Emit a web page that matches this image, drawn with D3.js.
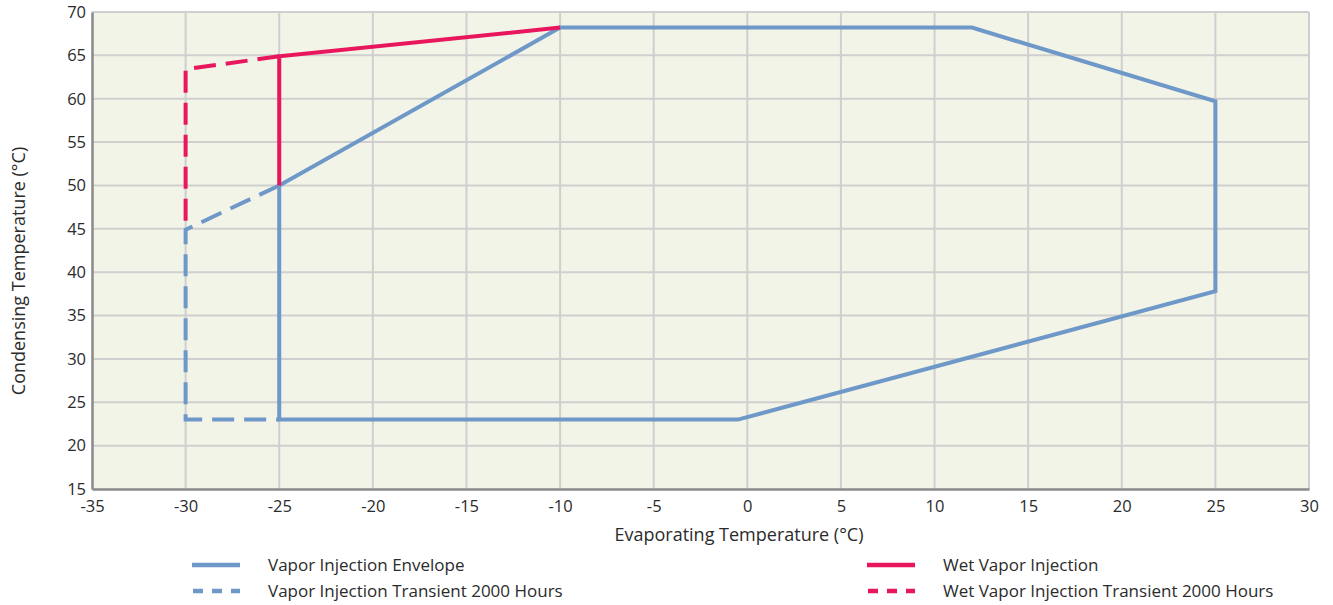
<!DOCTYPE html>
<html><head><meta charset="utf-8">
<script src="https://cdn.jsdelivr.net/npm/d3@7/dist/d3.min.js"></script>
<style>body{margin:0;background:#fff;}text{font-family:"Open Sans","Noto Sans",sans-serif;fill:#2b2b2b;}</style>
</head><body><svg id="c" width="1333" height="605"></svg>
<script>
const xTicks=[-35,-30,-25,-20,-15,-10,-5,0,5,10,15,20,25,30];
const yTicks=[15,20,25,30,35,40,45,50,55,60,65,70];
const envelope=[[-25,50],[-25,23],[-0.5,23],[25,37.8],[25,59.7],[12,68.2],[-10,68.2],[-25,50]];
const transient=[[-25,50],[-30,44.9],[-30,23],[-25,23]];
const wet=[[-25,50],[-25,64.9],[-10,68.2]];
const wetTransient=[[-25,64.9],[-30,63.4],[-30,44.9]];
const legendItems=[
 {label:"Vapor Injection Envelope",color:"#6e98c8",dash:null,col:0,row:0},
 {label:"Vapor Injection Transient 2000 Hours",color:"#6e98c8",dash:"10,9",col:0,row:1},
 {label:"Wet Vapor Injection",color:"#e8175d",dash:null,col:1,row:0},
 {label:"Wet Vapor Injection Transient 2000 Hours",color:"#e8175d",dash:"10,9",col:1,row:1}
];
const svg=d3.select("#c");
const L=92,R=1309,T=12,B=489;
const x=d3.scaleLinear().domain([-35,30]).range([L,R]);
const y=d3.scaleLinear().domain([15,70]).range([B,T]);
svg.append("rect").attr("x",L).attr("y",T).attr("width",R-L).attr("height",B-T).attr("fill","#f3f4e8");
const g=svg.append("g");
g.selectAll(".vx").data(xTicks.slice(1)).join("line").attr("x1",d=>x(d)).attr("x2",d=>x(d)).attr("y1",T).attr("y2",B).attr("stroke","#cfcfcf").attr("stroke-width",2);
g.selectAll(".hy").data(yTicks.slice(1)).join("line").attr("y1",d=>y(d)).attr("y2",d=>y(d)).attr("x1",L).attr("x2",R).attr("stroke","#cfcfcf").attr("stroke-width",2);
const xa=svg.append("g").attr("transform",`translate(0,${B})`).call(d3.axisBottom(x).tickValues(xTicks).tickSize(0).tickPadding(11).tickFormat(d=>String(d)));
xa.select(".domain").attr("stroke","#8a8a8a").attr("stroke-width",2.5);
xa.selectAll("text").style("font-size","16.5px").attr("fill","#2b2b2b");
const ya=svg.append("g").attr("transform",`translate(${L},0)`).call(d3.axisLeft(y).tickValues(yTicks).tickSize(0).tickPadding(6).tickFormat(d=>String(d)));
ya.select(".domain").attr("stroke","#8a8a8a").attr("stroke-width",2.5);
ya.selectAll("text").style("font-size","16.5px").attr("fill","#2b2b2b");
const line=d3.line().x(d=>x(d[0])).y(d=>y(d[1]));
function draw(data,color,dash){
 const p=svg.append("path").datum(data).attr("d",line).attr("fill","none").attr("stroke",color).attr("stroke-width",4).attr("stroke-linejoin","miter");
 if(dash)p.attr("stroke-dasharray",dash);
}
draw(transient,"#6e98c8","22,10");
draw(envelope,"#6e98c8",null);
draw(wetTransient,"#e8175d","22,10");
draw(wet,"#e8175d",null);
svg.append("text").attr("x",739).attr("y",541).attr("text-anchor","middle").style("font-size","18px").text("Evaporating Temperature (°C)");
svg.append("text").attr("transform","translate(25,271) rotate(-90)").attr("text-anchor","middle").style("font-size","18px").text("Condensing Temperature (°C)");
const lg=svg.append("g");
legendItems.forEach(it=>{
 const lx=it.col===0?192:867, ly=it.row===0?565:591;
 const ln=lg.append("line").attr("x1",lx).attr("x2",lx+48).attr("y1",ly).attr("y2",ly).attr("stroke",it.color).attr("stroke-width",4.5);
 if(it.dash)ln.attr("stroke-dasharray",it.dash).attr("stroke-dashoffset",-1);
 lg.append("text").attr("x",lx+76).attr("y",ly+6).style("font-size","17px").text(it.label);
});
</script></body></html>
